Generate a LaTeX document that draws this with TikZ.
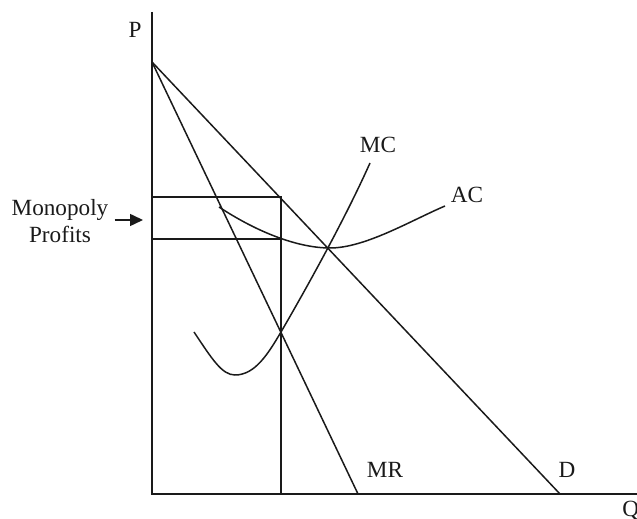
\documentclass[tikz,border=0pt]{standalone}
\usepackage{fontspec}
\setmainfont{Liberation Serif}
\usepackage{tikz}
\usetikzlibrary{arrows.meta}
\definecolor{ink}{HTML}{1A1A1A}
\newcommand{\Lbl}{\fontsize{11.6}{13.9}\selectfont}
\tikzset{
  curve/.style={draw=ink, line width=0.75pt},
  axis/.style={draw=ink, line width=0.9pt},
  lbl/.style={text=ink, font=\Lbl, inner sep=0pt}
}

\begin{document}
\begin{tikzpicture}[x=0.5pt,y=0.5pt]
      \useasboundingbox (0,0) rectangle (637,519);
      % axes
      \coordinate (O) at (152,25);
      \coordinate (Ptop) at (152,507);
      \coordinate (Qend) at (640,25);
      \draw[axis] (Ptop) -- (O) -- (Qend);
      % demand and marginal revenue
      \coordinate (A) at (152,457);
      \coordinate (Dend) at (560,25);
      \coordinate (MRend) at (358,25);
      \draw[curve] (A) -- (Dend);
      \draw[curve] (A) -- (MRend);
      % profit box
      \coordinate (boxtl) at (152,322);
      \coordinate (boxtr) at (281,322);
      \coordinate (boxbl) at (152,280);
      \coordinate (boxbr) at (281,280);
      \coordinate (qm) at (281,25);
      \draw[curve] (boxtl) -- (boxtr) -- (qm);
      \draw[curve] (boxbl) -- (boxbr);
      % marginal cost
      \coordinate (mc0) at (194,187);
      \coordinate (mcmin) at (235,144);
      \coordinate (mcx) at (281,187);
      \coordinate (mc1) at (370,356);
      \draw[curve] (mc0) .. controls (212,160) and (222,144) .. (mcmin)
        .. controls (255,144) and (268,165) .. (mcx)
        .. controls (306,230) and (345,300) .. (mc1);
      % average cost
      \coordinate (ac0) at (219,312);
      \coordinate (acmin) at (330,271);
      \coordinate (ac1) at (445,313);
      \draw[curve] (ac0) .. controls (260,285) and (300,271) .. (acmin)
        .. controls (365,271) and (410,298) .. (ac1);
      % labels
      \node[lbl] (P) at (135,489) {P};
      \node[lbl, anchor=west] (Q) at (622,8) {Q};
      \node[lbl] (MC) at (378,374) {MC};
      \node[lbl] (AC) at (467,324) {AC};
      \node[lbl] (MR) at (385,49) {MR};
      \node[lbl] (D) at (567,49) {D};
      \node[lbl, align=center] (prof) at (60,298) {Monopoly\\ Profits};
      \coordinate (arr) at (143,299);
      \draw[curve, -{Triangle[length=6.5pt,width=6pt]}] (prof.east) ++(6,1) -- (arr);
    \end{tikzpicture}
\end{document}
